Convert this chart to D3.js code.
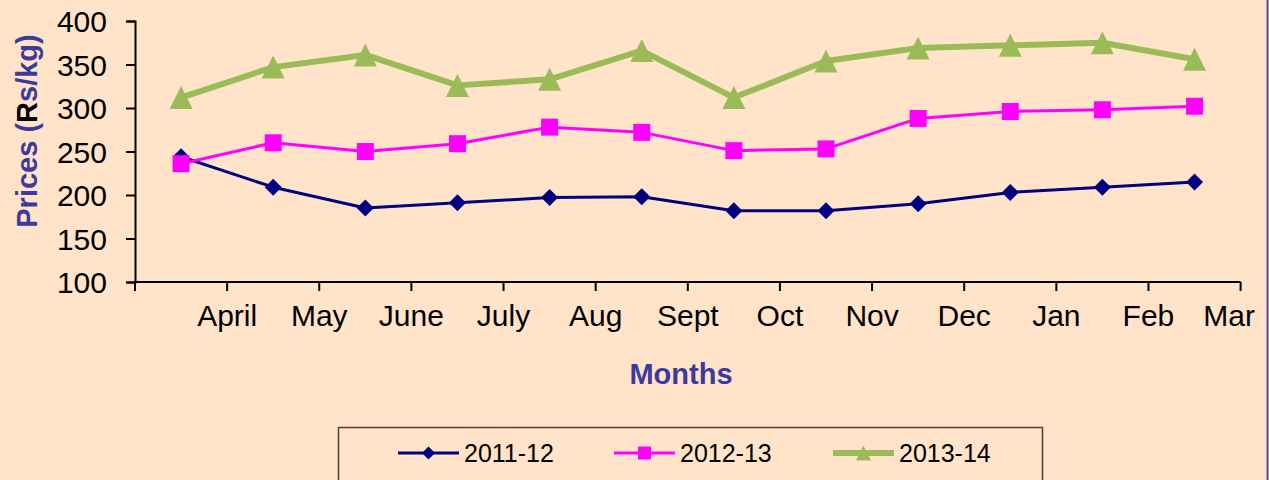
<!DOCTYPE html>
<html>
<head>
<meta charset="utf-8">
<script src="https://cdn.jsdelivr.net/npm/d3@7"></script>
<style>
  html, body { margin: 0; padding: 0; background: #FFE4C9; }
  svg { display: block; }
  text { font-family: "Liberation Sans", Arial, sans-serif; }
</style>
</head>
<body>
<svg id="chart" width="1269" height="480"></svg>
<script>
const months = ["April", "May", "June", "July", "Aug", "Sept", "Oct", "Nov", "Dec", "Jan", "Feb", "Mar"];
const yTicks = [100, 150, 200, 250, 300, 350, 400];
const seriesNames = ["2011-12", "2012-13", "2013-14"];
const values2011 = [244, 209, 185, 191, 197, 198, 182, 182, 190, 203, 209, 215];
const values2012 = [236, 260, 250, 259, 278, 272, 251, 253, 288, 296, 298, 302];
const values2013 = [312, 347, 361, 326, 333, 366, 312, 354, 369, 372, 375, 356];

const series = [
  { name: seriesNames[0], values: values2011, color: "#000080", width: 3, marker: "diamond", size: 17 },
  { name: seriesNames[1], values: values2012, color: "#FF00FF", width: 3, marker: "square", size: 17 },
  { name: seriesNames[2], values: values2013, color: "#9BBB59", width: 6, marker: "triangle", size: 23 }
];

const svg = d3.select("#chart");
const W = 1269, H = 480;
svg.append("rect").attr("width", W).attr("height", H).attr("fill", "#FFE4C9");
// right frame line
svg.append("line").attr("x1", 1267.5).attr("x2", 1267.5).attr("y1", 0).attr("y2", H)
  .attr("stroke", "#5E44A8").attr("stroke-width", 2);

const plotLeft = 135, plotRight = 1240.6, plotTop = 21, plotBottom = 282;
const x = d3.scaleBand().domain(months).range([plotLeft, plotRight]);
const y = d3.scaleLinear().domain([100, 400]).range([plotBottom, plotTop]);

// Y axis
const yAxis = d3.axisLeft(y).tickValues(yTicks).tickSize(9).tickPadding(19).tickFormat(d3.format("d"));
const gy = svg.append("g").attr("transform", `translate(${plotLeft},0)`).call(yAxis);
gy.select(".domain").attr("stroke", "#000").attr("stroke-width", 2);
gy.selectAll(".tick line").attr("stroke", "#000").attr("stroke-width", 2);
gy.selectAll(".tick text").attr("font-size", 30).attr("fill", "#000")
  .attr("font-family", "'Liberation Sans', Arial, sans-serif").attr("dy", "0.36em");

// X axis: ticks at band boundaries, labels at boundaries after each band
const boundaries = [plotLeft].concat(months.map(m => x(m) + x.bandwidth()));
const gx = svg.append("g");
gx.append("line").attr("x1", plotLeft - 1).attr("x2", plotRight).attr("y1", plotBottom).attr("y2", plotBottom)
  .attr("stroke", "#000").attr("stroke-width", 2);
gx.selectAll("line.tk").data(boundaries).join("line").attr("class", "tk")
  .attr("x1", d => d).attr("x2", d => d).attr("y1", plotBottom).attr("y2", plotBottom + 9)
  .attr("stroke", "#000").attr("stroke-width", 2);
gx.selectAll("text.lbl").data(months).join("text").attr("class", "lbl")
  .attr("x", m => x(m) + x.bandwidth()).attr("y", 326)
  .attr("text-anchor", "middle").attr("font-size", 30).attr("fill", "#000")
  .text(m => m)
  .each(function () {
    // keep the last label inside the frame
    const w = this.getComputedTextLength();
    const cx = +this.getAttribute("x");
    const maxRight = W - 14;
    if (cx + w / 2 > maxRight) this.setAttribute("x", maxRight - w / 2);
  });

// Axis titles
const titleColor = "#3C3A9E";
const yt = svg.append("text").attr("transform", "translate(37,131) rotate(-90)")
  .attr("text-anchor", "middle").attr("font-size", 29).attr("font-weight", "bold").attr("fill", titleColor);
yt.append("tspan").text("Prices (");
yt.append("tspan").attr("fill", "#000").text("R");
yt.append("tspan").text("s/kg)");

svg.append("text").attr("x", 681).attr("y", 384).attr("text-anchor", "middle")
  .attr("font-size", 29).attr("font-weight", "bold").attr("fill", titleColor).text("Months");

// marker path generator
function markerPath(type, s) {
  const h = s / 2;
  if (type === "diamond") return `M0,${-h}L${h},0L0,${h}L${-h},0Z`;
  if (type === "square") return `M${-h},${-h}H${h}V${h}H${-h}Z`;
  return `M0,${-h}L${h},${h}L${-h},${h}Z`;
}

const line = d3.line().x((d, i) => x(months[i]) + x.bandwidth() / 2).y(d => y(d));
series.forEach(s => {
  const g = svg.append("g");
  g.append("path").datum(s.values).attr("d", line).attr("fill", "none")
    .attr("stroke", s.color).attr("stroke-width", s.width).attr("stroke-linejoin", "round");
  g.selectAll("path.mk").data(s.values).join("path").attr("class", "mk")
    .attr("transform", (d, i) => `translate(${x(months[i]) + x.bandwidth() / 2},${y(d)})`)
    .attr("d", markerPath(s.marker, s.size)).attr("fill", s.color);
});

// Legend
const lg = svg.append("g");
lg.append("rect").attr("x", 338.5).attr("y", 427.5).attr("width", 704).attr("height", 60)
  .attr("fill", "none").attr("stroke", "#4A4038").attr("stroke-width", 1.5);
const legendX = [398, 614, 833];
series.forEach((s, i) => {
  const lx = legendX[i], ly = 453;
  lg.append("line").attr("x1", lx).attr("x2", lx + 61).attr("y1", ly).attr("y2", ly)
    .attr("stroke", s.color).attr("stroke-width", s.width);
  lg.append("path").attr("transform", `translate(${lx + 30.5},${ly})`)
    .attr("d", markerPath(s.marker, s.marker === "triangle" ? 15 : 13)).attr("fill", s.color);
  lg.append("text").attr("x", lx + 66).attr("y", ly + 9).attr("font-size", 25).attr("fill", "#000")
    .text(s.name);
});
</script>
</body>
</html>
